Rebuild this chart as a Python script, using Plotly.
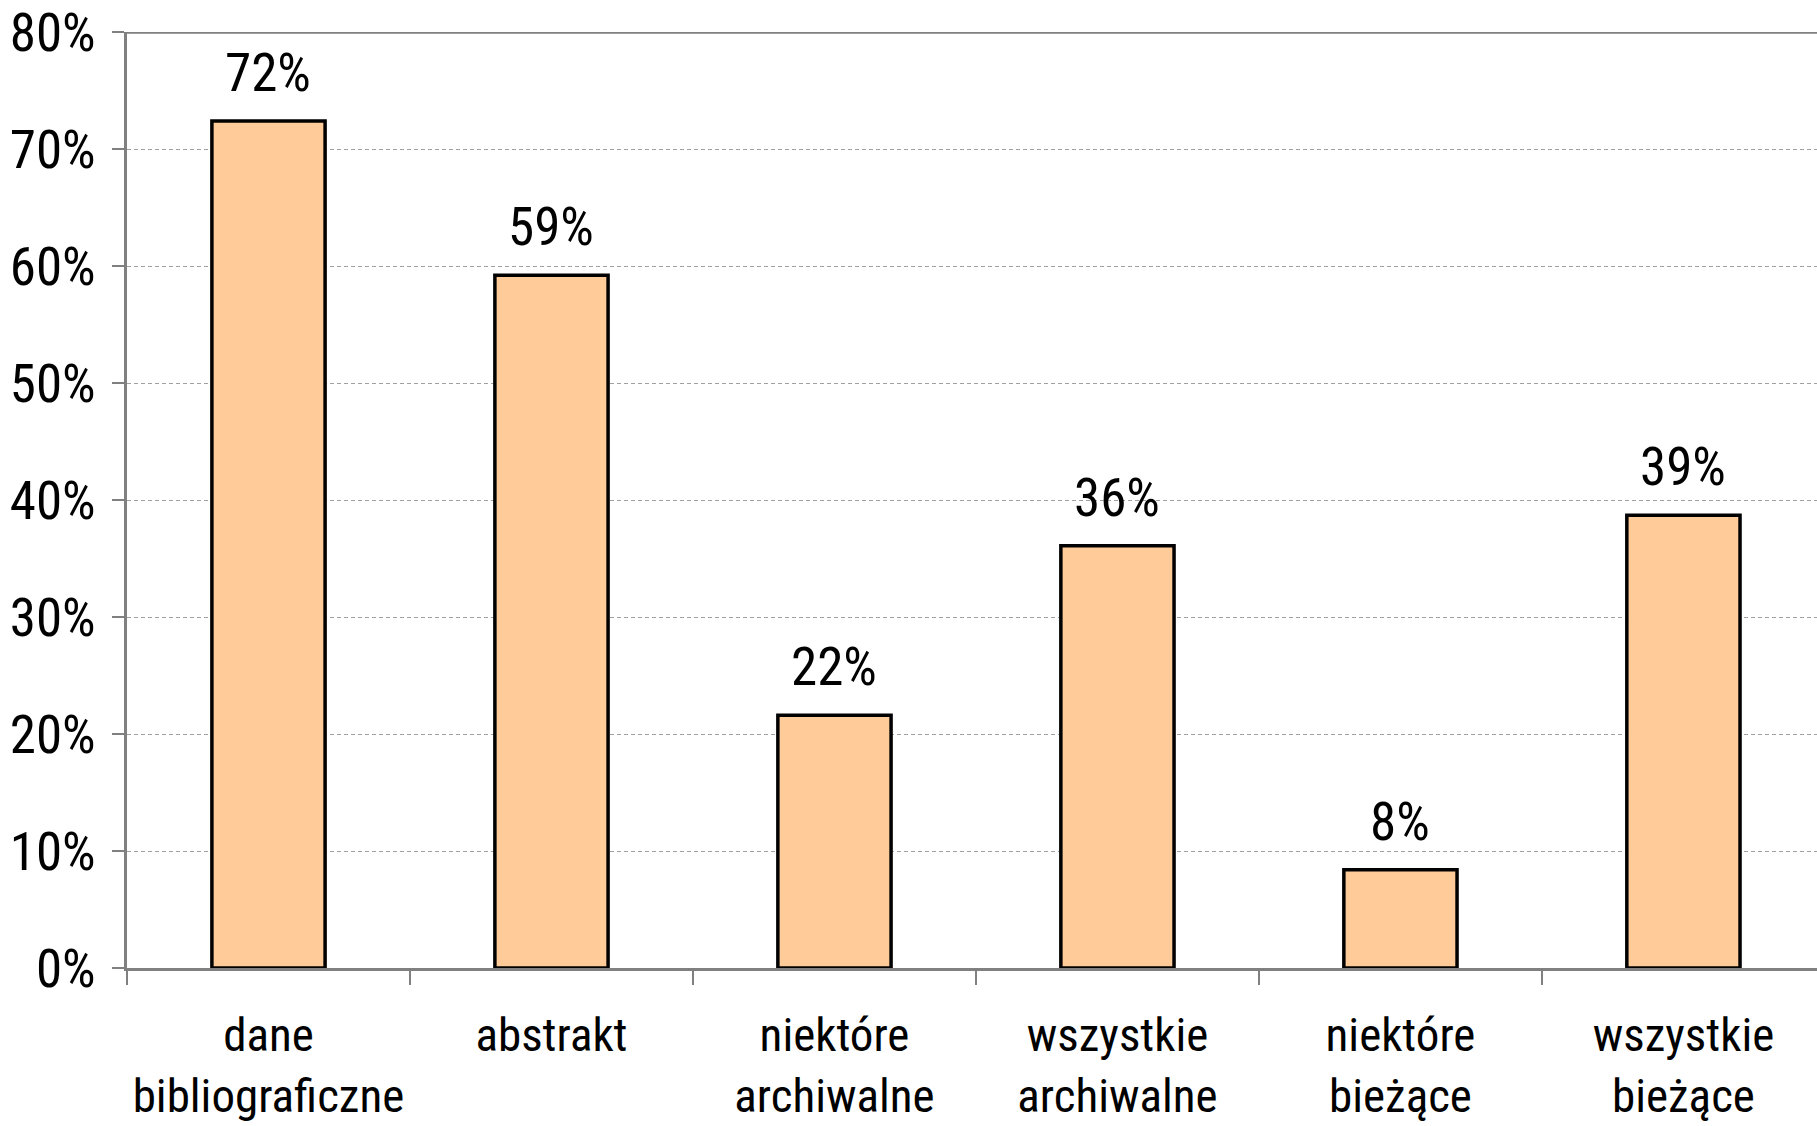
import plotly.graph_objects as go

categories = ["dane<br>bibliograficzne", "abstrakt", "niektóre<br>archiwalne",
              "wszystkie<br>archiwalne", "niektóre<br>bieżące", "wszystkie<br>bieżące"]
values = [72.4, 59.2, 21.6, 36.1, 8.4, 38.7]
labels = ["72%", "59%", "22%", "36%", "8%", "39%"]
y_ticks = [0, 10, 20, 30, 40, 50, 60, 70, 80]
y_tick_text = ["0%", "10%", "20%", "30%", "40%", "50%", "60%", "70%", "80%"]

FONT = "Liberation Sans Narrow, Arial Narrow, Roboto Condensed, Liberation Sans, Arial, sans-serif"
FS_NUM = 53
FS_CAT = 47

fig = go.Figure()
fig.add_trace(go.Bar(
    x=categories, y=values, width=0.4,
    marker=dict(color="#FFCC99", line=dict(color="#000000", width=3.5)),
    hoverinfo="skip",
))

for c, v, t in zip(categories, values, labels):
    fig.add_annotation(x=c, y=v, text=t, showarrow=False, yanchor="bottom",
                       yshift=15, font=dict(size=FS_NUM, color="#000000", family=FONT))

# thicker top frame line of the plot area
fig.add_shape(type="line", xref="paper", yref="y", x0=0, x1=1, y0=80, y1=80,
              line=dict(color="#808080", width=3.5), layer="above")

fig.update_layout(
    width=1817, height=1126,
    margin=dict(l=127, r=0, t=32, b=158, autoexpand=False),
    paper_bgcolor="white", plot_bgcolor="white",
    showlegend=False,
    font=dict(family=FONT, size=FS_NUM, color="#000000"),
)
fig.update_xaxes(
    range=[-0.5, 5.472], automargin=False, tickangle=0,
    showline=True, linecolor="#808080", linewidth=2.5,
    ticks="outside", tickson="boundaries", ticklen=14, tickcolor="#808080", tickwidth=1.5,
    showgrid=False, zeroline=False,
    tickfont=dict(size=FS_CAT, family=FONT, color="#000000"),
    ticklabelstandoff=24, ticklabeloverflow="allow",
)
fig.update_yaxes(
    range=[0, 80], tickvals=y_ticks, ticktext=y_tick_text, automargin=False,
    showline=True, linecolor="#808080", linewidth=2.5,
    ticks="outside", ticklen=12, tickcolor="#808080", tickwidth=1.5,
    showgrid=True, gridcolor="#A0A0A0", gridwidth=1, griddash="4px,3px",
    zeroline=False,
    tickfont=dict(size=FS_NUM, family=FONT, color="#000000"),
    ticklabelstandoff=6, ticklabeloverflow="allow",
)

fig.write_html("out.html")
